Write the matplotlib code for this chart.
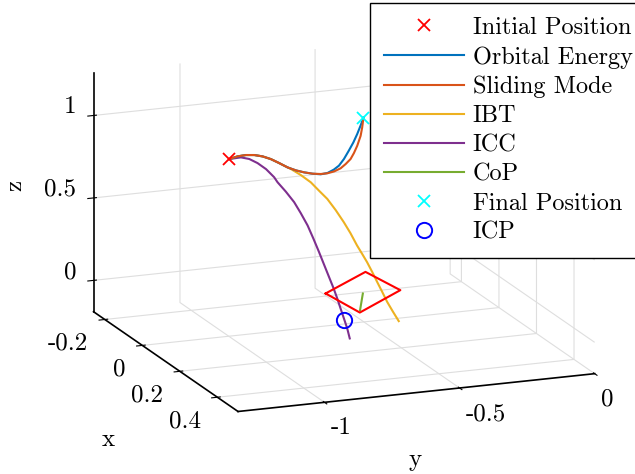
import numpy as np
import matplotlib
matplotlib.use("Agg")
import matplotlib.pyplot as plt

### Step 0. 全局设置 (LaTeX-like font)
plt.rcParams["font.family"] = "serif"
plt.rcParams["font.serif"] = ["cmr10"]
plt.rcParams["mathtext.fontset"] = "cm"
plt.rcParams["axes.unicode_minus"] = False
plt.rcParams["axes.formatter.use_mathtext"] = True
plt.rcParams["grid.color"] = "#dedede"
plt.rcParams["grid.linewidth"] = 0.8

### Step 1. data (x, y, z)
init_pos = [0.216, -1.148, 1.08]
final_pos = [0.034, -0.525, 1.08]
icp_pos = [0.183, -0.701, 0.0]

# Orbital Energy
oe_x = [0.216, 0.204, 0.201, 0.207, 0.222, 0.246, 0.278, 0.313, 0.339, 0.358, 0.373,
        0.383, 0.379, 0.361, 0.338, 0.297, 0.245, 0.193, 0.140, 0.087, 0.034]
oe_y = [-1.148, -1.109, -1.076, -1.049, -1.029, -1.015, -1.007, -1.000, -0.987, -0.970, -0.949,
        -0.926, -0.898, -0.862, -0.827, -0.780, -0.726, -0.673, -0.622, -0.573, -0.525]
oe_z = [1.08] * len(oe_x)

# Sliding Mode
sm_x = [0.216, 0.204, 0.201, 0.207, 0.222, 0.246, 0.278, 0.313, 0.339, 0.358, 0.373,
        0.381, 0.381, 0.373, 0.357, 0.332, 0.302, 0.265, 0.218, 0.154, 0.099, 0.034]
sm_y = [-1.148, -1.109, -1.076, -1.049, -1.029, -1.015, -1.007, -1.000, -0.987, -0.970, -0.949,
        -0.924, -0.900, -0.869, -0.834, -0.798, -0.759, -0.721, -0.676, -0.619, -0.575, -0.525]
sm_z = [1.08] * len(sm_x)

# IBT
ibt_x = [0.216, 0.204, 0.201, 0.207, 0.222, 0.246, 0.278, 0.313, 0.311, 0.303, 0.296,
         0.289, 0.283, 0.277, 0.270, 0.265, 0.260, 0.257, 0.253, 0.249, 0.245, 0.242,
         0.238, 0.233, 0.229]
ibt_y = [-1.148, -1.109, -1.076, -1.049, -1.029, -1.015, -1.007, -1.000, -0.986, -0.944, -0.902,
         -0.867, -0.832, -0.797, -0.762, -0.734, -0.706, -0.685, -0.664, -0.642, -0.621, -0.600,
         -0.579, -0.554, -0.530]
ibt_z = [1.08, 1.08, 1.08, 1.08, 1.08, 1.08, 1.08, 1.08, 1.066, 1.016, 0.959,
         0.897, 0.836, 0.758, 0.673, 0.598, 0.514, 0.457, 0.400, 0.333, 0.266, 0.199,
         0.132, 0.064, 0.0]

# ICC
icc_x = [0.216, 0.213, 0.210, 0.208, 0.206, 0.203, 0.202, 0.200, 0.197, 0.195, 0.194,
         0.192, 0.190, 0.189, 0.187, 0.186, 0.185, 0.184, 0.183, 0.182, 0.181]
icc_y = [-1.148, -1.103, -1.070, -1.038, -1.005, -0.973, -0.960, -0.928, -0.895, -0.869, -0.843,
         -0.820, -0.798, -0.779, -0.759, -0.742, -0.727, -0.714, -0.701, -0.688, -0.678]
icc_z = [1.08, 1.08, 1.062, 1.030, 0.986, 0.929, 0.896, 0.832, 0.760, 0.687, 0.607,
         0.521, 0.435, 0.356, 0.275, 0.205, 0.137, 0.073, 0.010, -0.054, -0.117]

# CoP
cop_x = [0.019, 0.128]
cop_y = [-0.517, -0.603]
cop_z = [0.0, 0.0]

# support polygon
foot_x = [-0.008, -0.124, 0.023, 0.144, -0.008]
foot_y = [-0.636, -0.408, -0.381, -0.615, -0.636]
foot_z = [0.0] * 5

x_ticks = [-0.2, 0, 0.2, 0.4]
x_ticklabels = ["-0.2", "0", "0.2", "0.4"]
y_ticks = [-1, -0.5, 0]
y_ticklabels = ["-1", "-0.5", "0"]
z_ticks = [0, 0.5, 1]
z_ticklabels = ["0", "0.5", "1"]

c_blue = "#0072BD"
c_orange = "#D95319"
c_yellow = "#EDB120"
c_purple = "#7E2F8E"
c_green = "#77AC30"

### Step 2. figure
fig = plt.figure(figsize=(6.35, 4.74), dpi=100)
ax = fig.add_axes([0.052, 0.026, 0.96, 0.98], projection="3d",
                  proj_type="ortho", computed_zorder=False)
ax.view_init(elev=15.7, azim=-21.4)
ax.set_box_aspect((397, 384, 249), zoom=1.263)

lw = 1.5
h_init, = ax.plot([init_pos[0]], [init_pos[1]], [init_pos[2]], "x",
                  color="red", ms=9, mew=1.3, zorder=6)
h_ibt, = ax.plot(ibt_x, ibt_y, ibt_z, color=c_yellow, lw=lw, zorder=2)
h_icc, = ax.plot(icc_x, icc_y, icc_z, color=c_purple, lw=lw, zorder=2)
h_oe, = ax.plot(oe_x, oe_y, oe_z, color=c_blue, lw=lw, zorder=3)
h_sm, = ax.plot(sm_x, sm_y, sm_z, color=c_orange, lw=lw, zorder=4)
ax.plot(foot_x, foot_y, foot_z, color="red", lw=lw, zorder=3)
h_cop, = ax.plot(cop_x, cop_y, cop_z, color=c_green, lw=lw, zorder=4)
h_fin, = ax.plot([final_pos[0]], [final_pos[1]], [final_pos[2]], "x",
                 color="cyan", ms=9, mew=1.3, zorder=6)
h_icp, = ax.plot([icp_pos[0]], [icp_pos[1]], [icp_pos[2]], "o",
                 mfc="none", mec="blue", ms=11, mew=1.4, zorder=6)

ax.set_xlim(-0.26, 0.51)
ax.set_ylim(-1.32, 0)
ax.set_zlim(-0.19, 1.26)
ax.set_xticks(x_ticks)
ax.set_yticks(y_ticks)
ax.set_zticks(z_ticks)
ax.set_xticklabels(x_ticklabels, ha="right")
ax.set_yticklabels(y_ticklabels, ha="left")
# z 刻度标签: 右对齐, 略高于刻度线
ax.set_zticklabels(z_ticklabels, ha="right", va="baseline")
ax.tick_params(labelsize=18)
ax.xaxis.set_tick_params(pad=0)
ax.yaxis.set_tick_params(pad=-0.3)
ax.zaxis.set_tick_params(pad=-2)
ax.zaxis.set_ticks_position("lower")
ax.zaxis.set_label_position("lower")

for axis in (ax.xaxis, ax.yaxis, ax.zaxis):
    axis.set_pane_color((1, 1, 1, 0))
    axis.pane.set_edgecolor("#d0d0d0")
    axis.line.set_color("black")
    axis.line.set_linewidth(1.2)

# axis labels
fig.text(108 / 635, 1 - 440 / 474, "x", fontsize=18, ha="center", va="center")
fig.text(415 / 635, 1 - 460 / 474, "y", fontsize=18, ha="center", va="center")
fig.text(15 / 635, 1 - 185 / 474, "z", fontsize=18, ha="center", va="center",
         rotation=90)

### Step 3. legend
handles = [h_init, h_oe, h_sm, h_ibt, h_icc, h_cop, h_fin, h_icp]
labels = ["Initial Position", "Orbital Energy", "Sliding Mode", "IBT",
          "ICC", "CoP", "Final Position", "ICP"]
fig.legend(handles, labels, loc="upper left",
           bbox_to_anchor=(370 / 635, 1 - 3 / 474),
           fontsize=17.5, fancybox=False, edgecolor="black", framealpha=1,
           handlelength=3.3, handletextpad=0.35, labelspacing=0.29,
           borderaxespad=0, borderpad=0.57)

fig.savefig("out.png", dpi=100)
